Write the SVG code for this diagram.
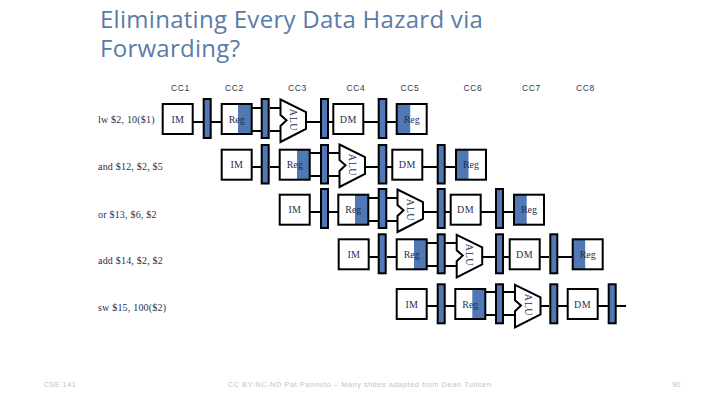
<svg xmlns="http://www.w3.org/2000/svg" width="720" height="405" viewBox="0 0 720 405">
<style>
.box{fill:#fff;stroke:#000;stroke-width:2}
.frame{fill:none;stroke:#000;stroke-width:2}
.blue{fill:#4f78b5}
.bar{fill:#4f78b5;stroke:#000;stroke-width:2}
.alu{fill:#fff;stroke:#000;stroke-width:2}
.wire{fill:none;stroke:#000;stroke-width:2}
.t{font-family:"Liberation Serif",serif;font-size:10px;fill:#1f3050;text-anchor:middle}
.dm{letter-spacing:.6px}
.lab{font-family:"Liberation Serif",serif;font-size:10px;fill:#1f3050;letter-spacing:.2px}
.cc{font-family:"Liberation Sans",sans-serif;font-size:8.5px;fill:#2a3a55;letter-spacing:.7px;text-anchor:middle}
.title{font-family:"Open Sans",sans-serif;font-size:24px;fill:#5a7ca6;letter-spacing:.28px}
.foot{font-family:"Liberation Sans",sans-serif;font-size:7.5px;fill:#c4c4c4}
</style>
<defs>
<polygon id="aluShape" class="alu" points="1,1.5 26.5,14 26.5,31 1,44 1,28 7,22.3 1,17"/>
</defs>
<rect width="720" height="405" fill="#fff"/>
<g id="title"><text class="title" x="100" y="27.5">Eliminating Every Data Hazard via</text><text class="title" x="100" y="56.5">Forwarding?</text></g>
<g id="cycles">
<text class="cc" x="180.5" y="90.5">CC1</text><text class="cc" x="234.5" y="90.5">CC2</text><text class="cc" x="297.5" y="90.5">CC3</text><text class="cc" x="356" y="90.5">CC4</text><text class="cc" x="410" y="90.5">CC5</text><text class="cc" x="473" y="90.5">CC6</text><text class="cc" x="531.5" y="90.5">CC7</text><text class="cc" x="585.5" y="90.5">CC8</text>
</g>
<g id="instructions">
<text class="lab" x="98" y="123">lw $2, 10($1)</text><text class="lab" x="98" y="170">and $12, $2, $5</text><text class="lab" x="98" y="218">or $13, $6, $2</text><text class="lab" x="98" y="264">add $14, $2, $2</text><text class="lab" x="98" y="311">sw $15, 100($2)</text>
</g>
<g id="connectors" class="wire">
<path d="M192 122H203M211 122H221M251 108H261M251 131H261M270 108H281M270 131H281M306 122H320M328 122H333M363 122H378M387 122H396"/>
<path d="M251 167H261M270 167H279M309 153H320M309 176H320M328 153H340M328 176H340M364 167H378M387 167H392M422 167H437M445 167H455"/>
<path d="M309 212H320M328 212H338M368 198H378M368 221H378M387 198H398M387 221H398M423 212H437M445 212H450M480 212H495M504 212H513"/>
<path d="M368 257H378M387 257H396M426 243H437M426 266H437M445 243H457M445 266H457M481 257H495M504 257H509M539 257H549M558 257H572"/>
<path d="M426 306H437M445 306H455M485 292H495M485 315H495M504 292H515M504 315H515M540 306H549M558 306H567M597 306H608M616 306H626"/>
</g>
<g id="r1-im"><rect class="box" x="162.7" y="104" width="30" height="30"/><text class="t" x="177.7" y="122.5">IM</text></g>
<g id="r1-bar1"><rect class="bar" x="203.7" y="99" width="7" height="39"/></g>
<g id="r1-reg"><rect class="blue" x="238" y="104" width="14" height="30"/><rect class="frame" x="221.7" y="104" width="30" height="30"/><text class="t" x="236.7" y="122.5">Reg</text></g>
<g id="r1-bar2"><rect class="bar" x="261.7" y="99" width="7" height="39"/></g>
<g id="r1-alu"><use href="#aluShape" x="279.5" y="98"/><text class="t dm" transform="translate(290,120) rotate(90)">ALU</text></g>
<g id="r1-bar3"><rect class="bar" x="321" y="99" width="7" height="39"/></g>
<g id="r1-dm"><rect class="box" x="333.3" y="104" width="30" height="30"/><text class="t dm" x="348.3" y="122.5">DM</text></g>
<g id="r1-bar4"><rect class="bar" x="378.7" y="99" width="7.6" height="39"/></g>
<g id="r1-reg2"><rect class="blue" x="396.7" y="104" width="13.5" height="30"/><rect class="frame" x="396.7" y="104" width="30" height="30"/><text class="t" x="411.7" y="122.5">Reg</text></g>
<g id="r2-im"><rect class="box" x="221.7" y="149.7" width="30" height="30"/><text class="t" x="236.7" y="167.5">IM</text></g>
<g id="r2-bar1"><rect class="bar" x="261.7" y="145" width="7" height="38.5"/></g>
<g id="r2-reg"><rect class="blue" x="297" y="149.7" width="13" height="30"/><rect class="frame" x="279.7" y="149.7" width="30" height="30"/><text class="t" x="294.7" y="167.5">Reg</text></g>
<g id="r2-bar2"><rect class="bar" x="321" y="145" width="7" height="38.5"/></g>
<g id="r2-alu"><use href="#aluShape" x="338.5" y="143"/><text class="t dm" transform="translate(349,165) rotate(90)">ALU</text></g>
<g id="r2-bar3"><rect class="bar" x="378.7" y="145" width="7.6" height="38.5"/></g>
<g id="r2-dm"><rect class="box" x="392.3" y="149.7" width="30" height="30"/><text class="t dm" x="407.3" y="167.5">DM</text></g>
<g id="r2-bar4"><rect class="bar" x="437.7" y="145" width="7" height="38.5"/></g>
<g id="r2-reg2"><rect class="blue" x="456" y="149.7" width="12.5" height="30"/><rect class="frame" x="456" y="149.7" width="30" height="30"/><text class="t" x="471" y="167.5">Reg</text></g>
<g id="r3-im"><rect class="box" x="279.7" y="194.7" width="30" height="30"/><text class="t" x="294.7" y="212.5">IM</text></g>
<g id="r3-bar1"><rect class="bar" x="321" y="189" width="7" height="39"/></g>
<g id="r3-reg"><rect class="blue" x="355" y="194.7" width="13" height="30"/><rect class="frame" x="338.3" y="194.7" width="30" height="30"/><text class="t" x="353.3" y="212.5">Reg</text></g>
<g id="r3-bar2"><rect class="bar" x="378.7" y="189" width="7.6" height="39"/></g>
<g id="r3-alu"><use href="#aluShape" x="396.5" y="188"/><text class="t dm" transform="translate(407,210) rotate(90)">ALU</text></g>
<g id="r3-bar3"><rect class="bar" x="437.7" y="189" width="7" height="39"/></g>
<g id="r3-dm"><rect class="box" x="450.7" y="194.7" width="30" height="30"/><text class="t dm" x="465.7" y="212.5">DM</text></g>
<g id="r3-bar4"><rect class="bar" x="496" y="189" width="7" height="39"/></g>
<g id="r3-reg2"><rect class="blue" x="514" y="194.7" width="12.7" height="30"/><rect class="frame" x="514" y="194.7" width="30" height="30"/><text class="t" x="529" y="212.5">Reg</text></g>
<g id="r4-im"><rect class="box" x="338.7" y="239.3" width="30" height="30"/><text class="t" x="353.7" y="257.5">IM</text></g>
<g id="r4-bar1"><rect class="bar" x="378.7" y="234.3" width="7" height="39"/></g>
<g id="r4-reg"><rect class="blue" x="414" y="239.3" width="13" height="30"/><rect class="frame" x="396.7" y="239.3" width="30" height="30"/><text class="t" x="411.7" y="257.5">Reg</text></g>
<g id="r4-bar2"><rect class="bar" x="437.7" y="234.3" width="7" height="39"/></g>
<g id="r4-alu"><use href="#aluShape" x="455.7" y="233.3"/><text class="t dm" transform="translate(466,255) rotate(90)">ALU</text></g>
<g id="r4-bar3"><rect class="bar" x="496" y="234.3" width="7" height="39"/></g>
<g id="r4-dm"><rect class="box" x="509.7" y="239.3" width="30" height="30"/><text class="t dm" x="524.7" y="257.5">DM</text></g>
<g id="r4-bar4"><rect class="bar" x="550.3" y="234.3" width="7" height="39"/></g>
<g id="r4-reg2"><rect class="blue" x="572.7" y="239.3" width="12.5" height="30"/><rect class="frame" x="572.7" y="239.3" width="30" height="30"/><text class="t" x="587.7" y="257.5">Reg</text></g>
<g id="r5-im"><rect class="box" x="396.7" y="289" width="30" height="30"/><text class="t" x="411.7" y="307.5">IM</text></g>
<g id="r5-bar1"><rect class="bar" x="437.7" y="284.3" width="7" height="39"/></g>
<g id="r5-reg"><rect class="blue" x="472.3" y="289" width="13" height="30"/><rect class="frame" x="455.3" y="289" width="30" height="30"/><text class="t" x="470.3" y="307.5">Reg</text></g>
<g id="r5-bar2"><rect class="bar" x="496" y="284.3" width="7" height="39"/></g>
<g id="r5-alu"><use href="#aluShape" x="514" y="283.3"/><text class="t dm" transform="translate(524.5,305) rotate(90)">ALU</text></g>
<g id="r5-bar3"><rect class="bar" x="550.3" y="284.3" width="7" height="39"/></g>
<g id="r5-dm"><rect class="box" x="567.7" y="289" width="30" height="30"/><text class="t dm" x="582.7" y="307.5">DM</text></g>
<g id="r5-bar4"><rect class="bar" x="608.7" y="284.3" width="7" height="39"/></g>
<g id="footer"><text class="foot" x="43.5" y="387" letter-spacing=".4">CSE 141</text><text class="foot" x="227.5" y="387" letter-spacing=".5">CC BY-NC-ND Pat Pannuto – Many slides adapted from Dean Tullsen</text><text class="foot" x="672" y="387">90</text></g>
</svg>
